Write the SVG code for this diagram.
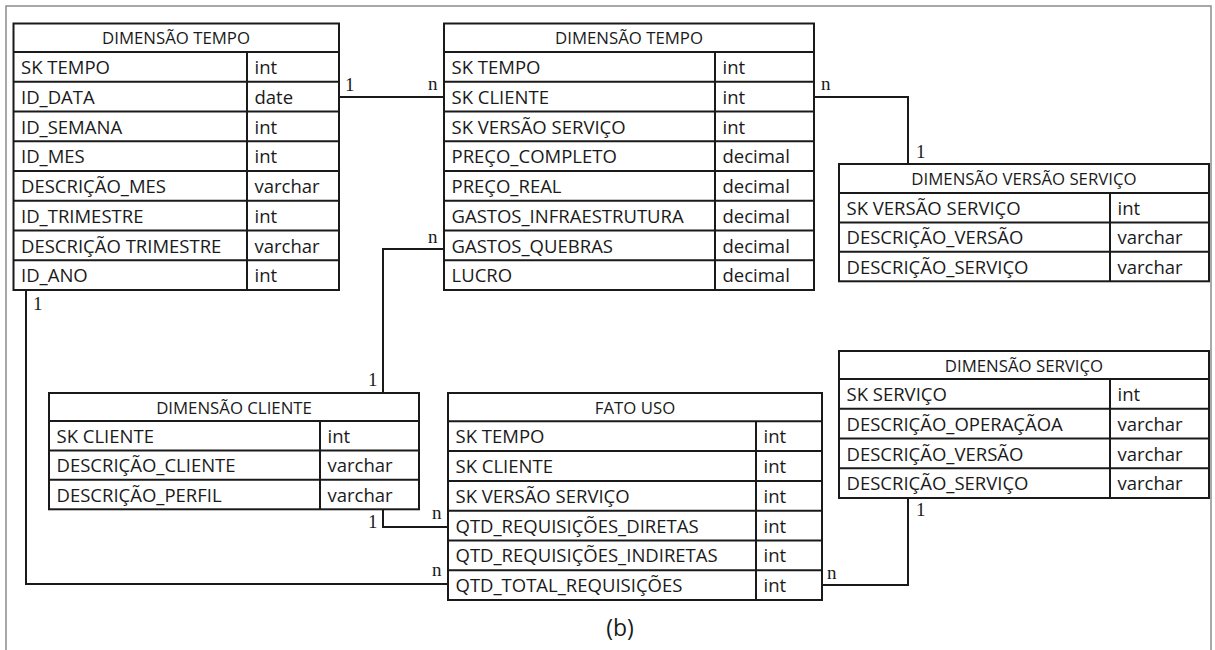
<svg xmlns="http://www.w3.org/2000/svg" width="1215" height="650" viewBox="0 0 1215 650">
<style>
.bg{fill:#fff}
.frame{fill:none;stroke:#8c8c8c;stroke-width:1.5}
.tb{fill:#fff;stroke:#1a1a1a;stroke-width:2}
.ln{stroke:#1a1a1a;stroke-width:2;fill:none}
.hd{font-family:"Open Sans","Noto Sans",sans-serif;font-size:16.8px;fill:#1a1a1a;text-anchor:middle}
.fd{font-family:"Open Sans","Noto Sans",sans-serif;font-size:18.5px;fill:#1a1a1a}
.lb{font-family:"Liberation Serif","Times New Roman",serif;font-size:19px;fill:#1a1a1a}
.cap{font-family:"Open Sans","Noto Sans",sans-serif;font-size:23px;fill:#1a1a1a;text-anchor:middle}
</style>
<rect class="bg" x="0" y="0" width="1215" height="650"/>
<rect class="frame" x="6" y="6" width="1205" height="700"/>

<g id="connectors">
  <path class="ln" d="M339,97 H444"/>
  <path class="ln" d="M444,249 H383 V393"/>
  <path class="ln" d="M814,97 H908 V164"/>
  <path class="ln" d="M383,509 V527 H448"/>
  <path class="ln" d="M26,290 V584 H448"/>
  <path class="ln" d="M908,498 V585 H822"/>
  <text class="lb" x="345" y="91">1</text>
  <text class="lb" x="428" y="90">n</text>
  <text class="lb" x="428" y="243">n</text>
  <text class="lb" x="368" y="386">1</text>
  <text class="lb" x="821" y="90">n</text>
  <text class="lb" x="916" y="158">1</text>
  <text class="lb" x="368" y="528">1</text>
  <text class="lb" x="432" y="519">n</text>
  <text class="lb" x="33" y="310">1</text>
  <text class="lb" x="432" y="576">n</text>
  <text class="lb" x="916" y="516">1</text>
  <text class="lb" x="827" y="579">n</text>
</g>

<g id="dim-tempo-1">
  <rect class="tb" x="13.5" y="23.5" width="325.5" height="266.5"/>
  <path class="ln" d="M13.5,52 H339 M13.5,81.75 H339 M13.5,111.5 H339 M13.5,141.25 H339 M13.5,171 H339 M13.5,200.75 H339 M13.5,230.5 H339 M13.5,260.25 H339 M247,52 V290"/>
  <text class="hd" x="176" y="44">DIMENSÃO TEMPO</text>
  <text class="fd" x="21" y="74">SK TEMPO</text><text class="fd" x="254.5" y="74">int</text>
  <text class="fd" x="21" y="103.75">ID_DATA</text><text class="fd" x="254.5" y="103.75">date</text>
  <text class="fd" x="21" y="133.5">ID_SEMANA</text><text class="fd" x="254.5" y="133.5">int</text>
  <text class="fd" x="21" y="163.25">ID_MES</text><text class="fd" x="254.5" y="163.25">int</text>
  <text class="fd" x="21" y="193">DESCRIÇÃO_MES</text><text class="fd" x="254.5" y="193">varchar</text>
  <text class="fd" x="21" y="222.75">ID_TRIMESTRE</text><text class="fd" x="254.5" y="222.75">int</text>
  <text class="fd" x="21" y="252.5">DESCRIÇÃO TRIMESTRE</text><text class="fd" x="254.5" y="252.5">varchar</text>
  <text class="fd" x="21" y="282.25">ID_ANO</text><text class="fd" x="254.5" y="282.25">int</text>
</g>

<g id="dim-tempo-2">
  <rect class="tb" x="444" y="23.5" width="370" height="266.5"/>
  <path class="ln" d="M444,52 H814 M444,81.75 H814 M444,111.5 H814 M444,141.25 H814 M444,171 H814 M444,200.75 H814 M444,230.5 H814 M444,260.25 H814 M715,52 V290"/>
  <text class="hd" x="629" y="44">DIMENSÃO TEMPO</text>
  <text class="fd" x="451.5" y="74">SK TEMPO</text><text class="fd" x="722.5" y="74">int</text>
  <text class="fd" x="451.5" y="103.75">SK CLIENTE</text><text class="fd" x="722.5" y="103.75">int</text>
  <text class="fd" x="451.5" y="133.5">SK VERSÃO SERVIÇO</text><text class="fd" x="722.5" y="133.5">int</text>
  <text class="fd" x="451.5" y="163.25">PREÇO_COMPLETO</text><text class="fd" x="722.5" y="163.25">decimal</text>
  <text class="fd" x="451.5" y="193">PREÇO_REAL</text><text class="fd" x="722.5" y="193">decimal</text>
  <text class="fd" x="451.5" y="222.75">GASTOS_INFRAESTRUTURA</text><text class="fd" x="722.5" y="222.75">decimal</text>
  <text class="fd" x="451.5" y="252.5">GASTOS_QUEBRAS</text><text class="fd" x="722.5" y="252.5">decimal</text>
  <text class="fd" x="451.5" y="282.25">LUCRO</text><text class="fd" x="722.5" y="282.25">decimal</text>
</g>

<g id="dim-versao-servico">
  <rect class="tb" x="839" y="164" width="370" height="117.3"/>
  <path class="ln" d="M839,193 H1209 M839,222.4 H1209 M839,251.8 H1209 M1110,193 V281.3"/>
  <text class="hd" x="1024" y="185">DIMENSÃO VERSÃO SERVIÇO</text>
  <text class="fd" x="846.5" y="215">SK VERSÃO SERVIÇO</text><text class="fd" x="1117.5" y="215">int</text>
  <text class="fd" x="846.5" y="244.4">DESCRIÇÃO_VERSÃO</text><text class="fd" x="1117.5" y="244.4">varchar</text>
  <text class="fd" x="846.5" y="273.8">DESCRIÇÃO_SERVIÇO</text><text class="fd" x="1117.5" y="273.8">varchar</text>
</g>

<g id="dim-cliente">
  <rect class="tb" x="49" y="393" width="370" height="116.3"/>
  <path class="ln" d="M49,421 H419 M49,450.4 H419 M49,479.8 H419 M320,421 V509.3"/>
  <text class="hd" x="234" y="414">DIMENSÃO CLIENTE</text>
  <text class="fd" x="56.5" y="443">SK CLIENTE</text><text class="fd" x="327.5" y="443">int</text>
  <text class="fd" x="56.5" y="472.4">DESCRIÇÃO_CLIENTE</text><text class="fd" x="327.5" y="472.4">varchar</text>
  <text class="fd" x="56.5" y="501.8">DESCRIÇÃO_PERFIL</text><text class="fd" x="327.5" y="501.8">varchar</text>
</g>

<g id="fato-uso">
  <rect class="tb" x="448" y="393" width="374" height="207"/>
  <path class="ln" d="M448,421.3 H822 M448,451.1 H822 M448,480.9 H822 M448,510.7 H822 M448,540.4 H822 M448,570.2 H822 M756,421.3 V600"/>
  <text class="hd" x="635" y="414">FATO USO</text>
  <text class="fd" x="455.5" y="443.3">SK TEMPO</text><text class="fd" x="763.5" y="443.3">int</text>
  <text class="fd" x="455.5" y="473.1">SK CLIENTE</text><text class="fd" x="763.5" y="473.1">int</text>
  <text class="fd" x="455.5" y="502.9">SK VERSÃO SERVIÇO</text><text class="fd" x="763.5" y="502.9">int</text>
  <text class="fd" x="455.5" y="532.7">QTD_REQUISIÇÕES_DIRETAS</text><text class="fd" x="763.5" y="532.7">int</text>
  <text class="fd" x="455.5" y="562.4">QTD_REQUISIÇÕES_INDIRETAS</text><text class="fd" x="763.5" y="562.4">int</text>
  <text class="fd" x="455.5" y="592.2">QTD_TOTAL_REQUISIÇÕES</text><text class="fd" x="763.5" y="592.2">int</text>
</g>

<g id="dim-servico">
  <rect class="tb" x="839" y="351" width="370" height="147"/>
  <path class="ln" d="M839,379 H1209 M839,408.75 H1209 M839,438.5 H1209 M839,468.25 H1209 M1110,379 V498"/>
  <text class="hd" x="1024" y="372">DIMENSÃO SERVIÇO</text>
  <text class="fd" x="846.5" y="401">SK SERVIÇO</text><text class="fd" x="1117.5" y="401">int</text>
  <text class="fd" x="846.5" y="430.75">DESCRIÇÃO_OPERAÇÃOA</text><text class="fd" x="1117.5" y="430.75">varchar</text>
  <text class="fd" x="846.5" y="460.5">DESCRIÇÃO_VERSÃO</text><text class="fd" x="1117.5" y="460.5">varchar</text>
  <text class="fd" x="846.5" y="490.25">DESCRIÇÃO_SERVIÇO</text><text class="fd" x="1117.5" y="490.25">varchar</text>
</g>

<text class="cap" x="620" y="636">(b)</text>
</svg>
